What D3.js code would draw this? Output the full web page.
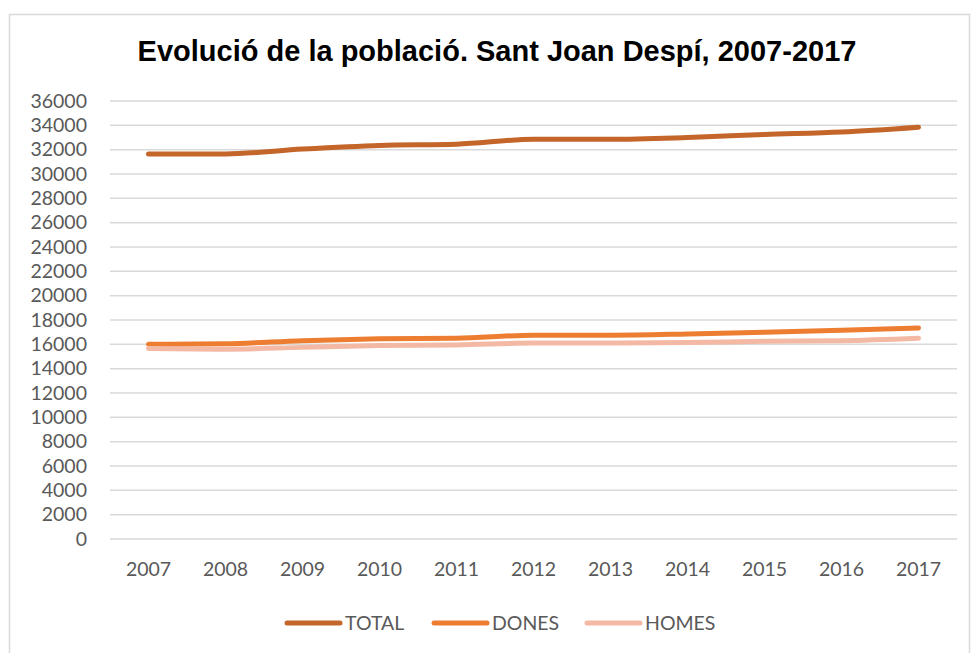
<!DOCTYPE html>
<html lang="ca">
<head>
<meta charset="UTF-8">
<title>Evolució de la població</title>
<script src="https://d3js.org/d3.v7.min.js"></script>
<style>
  body { margin: 0; background: #fff; }
</style>
</head>
<body>
<svg id="chart"></svg>
<script>
// dades
var years = ["2007", "2008", "2009", "2010", "2011", "2012", "2013", "2014", "2015", "2016", "2017"];
var total = [31650, 31650, 32050, 32350, 32450, 32850, 32850, 33000, 33250, 33450, 33850];
var dones = [16000, 16050, 16300, 16450, 16500, 16750, 16750, 16850, 17000, 17150, 17350];
var homes = [15650, 15600, 15750, 15900, 15950, 16100, 16100, 16150, 16250, 16300, 16500];
var yTicks = d3.range(0, 36001, 2000);

var seriesNames = ["TOTAL", "DONES", "HOMES"];
var seriesColors = ["#C4652A", "#ED7D31", "#F4B9A5"];
var series = [total, dones, homes];

var width = 972, height = 653;
var margin = { left: 110, right: 15, top: 101, bottom: 114 };
var labelFont = "Lato, 'Open Sans', sans-serif";

var svg = d3.select("#chart").attr("width", width).attr("height", height);

// marc del gràfic
svg.append("rect")
    .attr("x", 9.5).attr("y", 14.5)
    .attr("width", 960).attr("height", 650)
    .attr("fill", "#fff").attr("stroke", "#d9d9d9").attr("stroke-width", 1.5);

var x = d3.scaleBand().domain(years).range([margin.left, width - margin.right]);
var y = d3.scaleLinear().domain([0, 36000]).range([height - margin.bottom, margin.top]);

// línies de quadrícula
svg.append("g")
    .selectAll("line")
    .data(yTicks)
    .enter().append("line")
    .attr("x1", margin.left).attr("x2", width - margin.right)
    .attr("y1", function(d) { return y(d); }).attr("y2", function(d) { return y(d); })
    .attr("stroke", "#d9d9d9").attr("stroke-width", 1.5);

var yAxis = svg.append("g")
    .attr("transform", "translate(" + 87 + ",0)")
    .call(d3.axisLeft(y).tickValues(yTicks).tickSize(0).tickPadding(0).tickFormat(d3.format("d")));
yAxis.select(".domain").remove();
yAxis.selectAll("text")
    .attr("fill", "#595959").attr("font-size", "19.5px")
    .attr("font-family", labelFont);

var xAxis = svg.append("g")
    .attr("transform", "translate(0," + (height - margin.bottom) + ")")
    .call(d3.axisBottom(x).tickSize(0).tickPadding(23));
xAxis.select(".domain").remove();
xAxis.selectAll("text")
    .attr("fill", "#595959").attr("font-size", "19.5px")
    .attr("font-family", labelFont);

// sèries
var line = d3.line()
    .x(function(d, i) { return x(years[i]) + x.bandwidth() / 2; })
    .y(function(d) { return y(d); })
    .curve(d3.curveMonotoneX);

svg.append("g")
    .selectAll("path")
    .data(series)
    .enter().append("path")
    .attr("d", line)
    .attr("fill", "none")
    .attr("stroke", function(d, i) { return seriesColors[i]; })
    .attr("stroke-width", 5)
    .attr("stroke-linecap", "round");

// títol
svg.append("text")
    .attr("x", 497).attr("y", 61)
    .attr("text-anchor", "middle")
    .attr("font-family", "'Liberation Sans', Arial, sans-serif")
    .attr("font-weight", "bold").attr("font-size", "29px")
    .attr("fill", "#000")
    .text("Evolució de la població. Sant Joan Despí, 2007-2017");

// llegenda
var legendX = [287, 434, 587];
var legend = svg.append("g")
    .selectAll("g")
    .data(seriesNames)
    .enter().append("g")
    .attr("transform", function(d, i) { return "translate(" + legendX[i] + ",623)"; });
legend.append("line")
    .attr("x1", 0).attr("x2", 53)
    .attr("stroke", function(d, i) { return seriesColors[i]; })
    .attr("stroke-width", 5).attr("stroke-linecap", "round");
legend.append("text")
    .attr("x", 58).attr("y", 7)
    .attr("fill", "#595959").attr("font-size", "19.5px")
    .attr("font-family", labelFont)
    .text(function(d) { return d; });
</script>
</body>
</html>
